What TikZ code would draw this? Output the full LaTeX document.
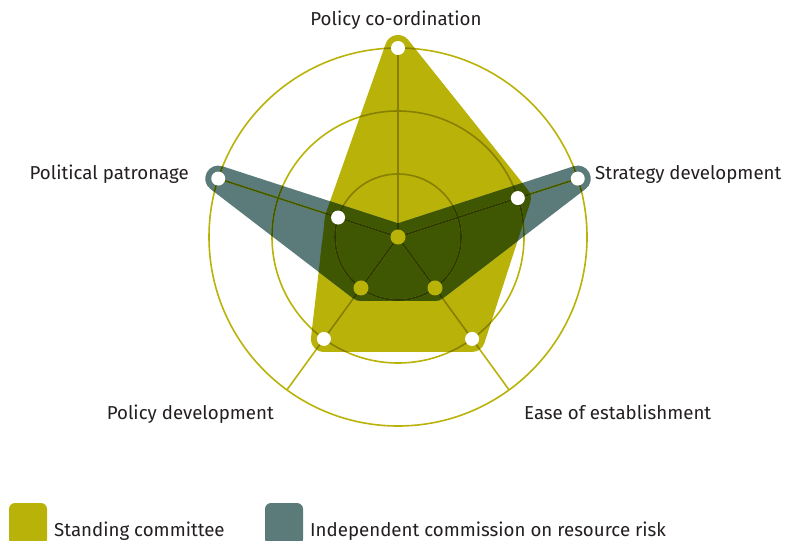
\documentclass[tikz,border=0pt]{standalone}
\usepackage{fontspec}
\setmainfont{Fira Sans}
\usetikzlibrary{calc}
\definecolor{ylw}{HTML}{B9B309}
\definecolor{ylwdk}{HTML}{867F00}
\definecolor{teal2}{HTML}{5A7B79}
\definecolor{ovl}{HTML}{3F5603}
\definecolor{ovldk}{HTML}{2B3B00}
\definecolor{txt}{HTML}{231F20}
\tikzset{
  lbl/.style={font=\fontsize{18.7}{22}\selectfont, text=txt, inner sep=0pt},
  poly/.style={fill=#1, draw=#1, line width=26pt, line join=round},
  gridline/.style={draw=#1, line width=1.6pt},
  wdot/.style={fill=white},
  ydot/.style={fill=ylw},
  legbox/.style={fill=#1, rounded corners=6pt}
}
% band around segment A-B, counterclockwise
\newcommand\bandAB[2]{($(#1)!13pt!-90:(#2)$) -- ($(#2)!13pt!90:(#1)$) -- ($(#2)!13pt!-90:(#1)$) -- ($(#1)!13pt!90:(#2)$) -- cycle}
\newcommand\yshape{(y1) -- (y5) -- (y4) -- (y3) -- (y2) -- cycle
  \bandAB{y1}{y2} \bandAB{y2}{y3} \bandAB{y3}{y4} \bandAB{y4}{y5} \bandAB{y5}{y1}
  (y1) circle[radius=13] (y2) circle[radius=13] (y3) circle[radius=13] (y4) circle[radius=13] (y5) circle[radius=13]}
\newcommand\tshape{(t1) -- (t5) -- (t4) -- (t3) -- (t2) -- cycle
  \bandAB{t1}{t2} \bandAB{t2}{t3} \bandAB{t3}{t4} \bandAB{t4}{t5} \bandAB{t5}{t1}
  (t1) circle[radius=13] (t2) circle[radius=13] (t3) circle[radius=13] (t4) circle[radius=13] (t5) circle[radius=13]}
\newcommand\gridpath[1]{%
  \draw[gridline=#1] (c) circle[radius=63];
  \draw[gridline=#1] (c) circle[radius=126];
  \draw[gridline=#1] (c) circle[radius=189];
  \foreach \n in {pc,sd,ee,pd,pp}{ \draw[gridline=#1] (c) -- (o\n); }}
\begin{document}
\begin{tikzpicture}[x=1pt,y=1pt]
\useasboundingbox (0,0) rectangle (799,-540);
\coordinate (c) at (398,-237);
\foreach \n/\a in {pc/90, sd/18, ee/-54, pd/-126, pp/162}{
  \coordinate (o\n) at ($(c)+(\a:189)$);
}
% standing committee
\coordinate (y1) at ($(c)+(90:189)$);
\coordinate (y2) at ($(c)+(18:126)$);
\coordinate (y3) at ($(c)+(-54:126)$);
\coordinate (y4) at ($(c)+(-126:126)$);
\coordinate (y5) at ($(c)+(162:63)$);
% independent commission
\coordinate (t1) at (c);
\coordinate (t2) at ($(c)+(18:189)$);
\coordinate (t3) at ($(c)+(-54:63)$);
\coordinate (t4) at ($(c)+(-126:63)$);
\coordinate (t5) at ($(c)+(162:189)$);

\path[poly=ylw] (y1) -- (y2) -- (y3) -- (y4) -- (y5) -- cycle;
\path[poly=teal2] (t1) -- (t2) -- (t3) -- (t4) -- (t5) -- cycle;
\begin{scope}
  \clip \yshape;
  \path[poly=ovl] (t1) -- (t2) -- (t3) -- (t4) -- (t5) -- cycle;
\end{scope}

% grid with multiply-like colours
\gridpath{ylw}
\begin{scope}
  \clip \yshape;
  \gridpath{ylwdk}
\end{scope}
\begin{scope}
  \clip \tshape;
  \gridpath{ovl}
\end{scope}
\begin{scope}
  \clip \yshape;
  \clip \tshape;
  \gridpath{ovldk}
\end{scope}

\foreach \p in {y1,y2,y3,y4,y5,t2,t5}{ \fill[wdot] (\p) circle[radius=7]; }
\foreach \p in {t1,t3,t4}{ \fill[ydot] (\p) circle[radius=7.5]; }

\node[lbl, anchor=base] (lpc) at (396,-26) {Policy co-ordination};
\node[lbl, anchor=base west] (lsd) at (595,-179) {Strategy development};
\node[lbl, anchor=base east] (lpp) at (189,-179) {Political patronage};
\node[lbl, anchor=base east] (lpd) at (274,-419) {Policy development};
\node[lbl, anchor=base west] (lee) at (524,-419) {Ease of establishment};

\fill[legbox=ylw] (9,-503) rectangle (47,-545);
\node[lbl, anchor=base west] (l1) at (54,-536) {Standing committee};
\fill[legbox=teal2] (265,-503) rectangle (303,-545);
\node[lbl, anchor=base west] (l2) at (310,-536) {Independent commission on resource risk};
\end{tikzpicture}
\end{document}
